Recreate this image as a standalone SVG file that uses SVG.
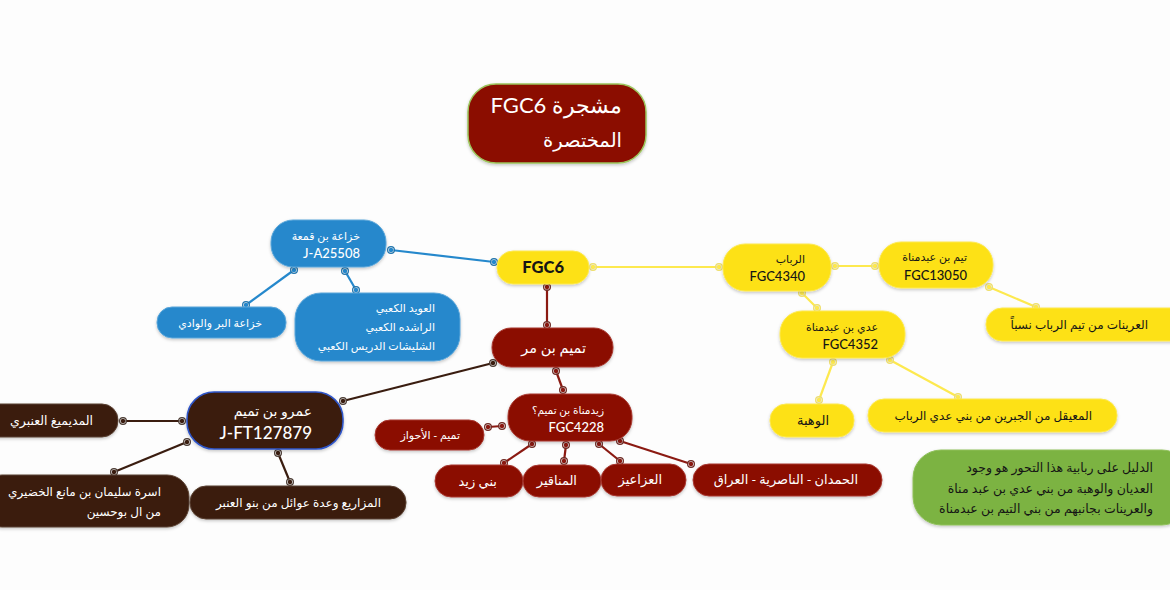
<svg xmlns="http://www.w3.org/2000/svg" width="1170" height="590" viewBox="0 0 1170 590">
<defs>
<filter id="sh" x="-10%" y="-20%" width="120%" height="150%"><feDropShadow dx="0" dy="1.5" stdDeviation="1.5" flood-color="#000" flood-opacity="0.22"/></filter>
<g id="dot"><circle r="3.4" fill="#ddd" fill-opacity="0.6" stroke="currentColor" stroke-width="1.2"/><circle r="1.1" fill="currentColor"/></g>
</defs>
<style>
text{font-family:"Noto Sans","DejaVu Sans",sans-serif;direction:rtl;text-anchor:start}
.lat{font-family:Lato,"Noto Sans",sans-serif;font-weight:700}
.w{fill:#fff}.k{fill:#151515}
.s11{font-size:11px}.s12{font-size:12px}.s125{font-size:12.5px}.s13{font-size:13px}.s14{font-size:14px}
.red rect{fill:#8b0a00;stroke:#a83a30;stroke-width:1}
.brn rect{fill:#3a1d10;stroke:#5a4030;stroke-width:1}
.blu rect{fill:#2588cc;stroke:#5aa6da;stroke-width:1}
.yel rect{fill:#fde116;stroke:#fde94f;stroke-width:1}
rect{filter:url(#sh)}
.c{fill:none;stroke-width:2.2}
</style>
<rect width="1170" height="590" fill="#fdfdfd" style="filter:none"/>
<g id="connectors" class="c">
<g stroke="#2588cc" color="#1f74ad">
<line x1="391" y1="250" x2="494" y2="262"/><line x1="294" y1="270" x2="246" y2="305"/><line x1="345" y1="271" x2="356" y2="290"/>
<use href="#dot" x="391" y="250"/><use href="#dot" x="494" y="262"/><use href="#dot" x="294" y="270"/><use href="#dot" x="246" y="305"/><use href="#dot" x="345" y="271"/><use href="#dot" x="356" y="290"/>
</g>
<g stroke="#fde94f" color="#efdf6a">
<line x1="593" y1="267" x2="719" y2="267"/><line x1="835" y1="266" x2="875" y2="266"/><line x1="802" y1="293" x2="817" y2="308"/><line x1="989" y1="287" x2="1036" y2="307"/><line x1="833" y1="362" x2="819" y2="400"/><line x1="890" y1="360" x2="958" y2="397"/>
<use href="#dot" x="593" y="267"/><use href="#dot" x="719" y="267"/><use href="#dot" x="835" y="266"/><use href="#dot" x="875" y="266"/><use href="#dot" x="802" y="293"/><use href="#dot" x="817" y="308"/><use href="#dot" x="989" y="287"/><use href="#dot" x="1036" y="307"/><use href="#dot" x="833" y="362"/><use href="#dot" x="819" y="400"/><use href="#dot" x="890" y="360"/><use href="#dot" x="958" y="397"/>
</g>
<g stroke="#8b1a12" color="#6e2a24">
<line x1="547" y1="287" x2="547" y2="325"/><line x1="556" y1="371" x2="563" y2="390"/><line x1="502" y1="426" x2="488" y2="427"/><line x1="532" y1="444" x2="504" y2="463"/><line x1="566" y1="445" x2="564" y2="461"/><line x1="599" y1="444" x2="620" y2="461"/><line x1="620" y1="441" x2="691" y2="464"/>
<use href="#dot" x="547" y="287"/><use href="#dot" x="547" y="325"/><use href="#dot" x="556" y="371"/><use href="#dot" x="563" y="390"/><use href="#dot" x="502" y="426"/><use href="#dot" x="488" y="427"/><use href="#dot" x="532" y="444"/><use href="#dot" x="504" y="463"/><use href="#dot" x="566" y="445"/><use href="#dot" x="564" y="461"/><use href="#dot" x="599" y="444"/><use href="#dot" x="620" y="461"/><use href="#dot" x="620" y="441"/><use href="#dot" x="691" y="464"/>
</g>
<g stroke="#3a1d10" color="#4a3a32">
<line x1="493" y1="363" x2="343" y2="401"/><line x1="182" y1="421" x2="123" y2="421"/><line x1="187" y1="442" x2="114" y2="472"/><line x1="278" y1="453" x2="290" y2="482"/>
<use href="#dot" x="493" y="363"/><use href="#dot" x="343" y="401"/><use href="#dot" x="182" y="421"/><use href="#dot" x="123" y="421"/><use href="#dot" x="187" y="442"/><use href="#dot" x="114" y="472"/><use href="#dot" x="278" y="453"/><use href="#dot" x="290" y="482"/>
</g>
</g>
<g id="root" class="red"><rect x="468" y="84" width="178" height="79" rx="28" style="stroke:#9cc45c;stroke-width:1.5"/><text x="622" y="113" class="w lat" style="font-size:22px;font-weight:400">مشجرة FGC6</text><text x="622" y="147" class="w" style="font-size:19.5px">المختصرة</text></g>
<g id="fgc6" class="yel"><rect x="497" y="251" width="92" height="33" rx="16"/><text x="564" y="273" class="k lat" style="font-size:16.5px;font-weight:900">FGC6</text></g>
<g id="khuzaa" class="blu"><rect x="271" y="220" width="115" height="47" rx="22"/><text x="360" y="240" class="w s11">خزاعة بن قمعة</text><text x="360" y="258" class="w lat s13" style="font-weight:500">J-A25508</text></g>
<g id="khuzaa-bar" class="blu"><rect x="157" y="307" width="129" height="31" rx="15"/><text x="262" y="327" class="w s11">خزاعة البر والوادي</text></g>
<g id="kaabi" class="blu"><rect x="295" y="293" width="165" height="68" rx="26"/><text x="435" y="312" class="w s11">العويد الكعبي</text><text x="435" y="331" class="w s11">الراشده الكعبي</text><text x="435" y="350" class="w s11">الشليشات الدريس الكعبي</text></g>
<g id="tamim" class="red"><rect x="492" y="328" width="121" height="39" rx="19"/><text x="586" y="353" class="w" style="font-size:14.5px">تميم بن مر</text></g>
<g id="amr" class="brn"><rect x="187" y="392" width="156" height="57" rx="27" style="stroke:#2f55c8;stroke-width:1.6"/><text x="312" y="416" class="w s14">عمرو بن تميم</text><text x="312" y="439" class="w lat" style="font-size:17px;font-weight:500">J-FT127879</text></g>
<g id="mudaimigh" class="brn"><rect x="-20" y="404" width="138" height="33" rx="16"/><text x="93" y="425" class="w s125">المديميغ العنبري</text></g>
<g id="usra" class="brn"><rect x="-20" y="475" width="209" height="52" rx="22"/><text x="161" y="496" class="w s12">اسرة سليمان بن مانع الخضيري</text><text x="161" y="516" class="w s12">من ال بوحسين</text></g>
<g id="mazari" class="brn"><rect x="190" y="486" width="216" height="33" rx="16"/><text x="381" y="507" class="w s12">المزاريع وعدة عوائل من بنو العنبر</text></g>
<g id="zaidmanat" class="red"><rect x="508" y="394" width="124" height="47" rx="22"/><text x="604" y="414" class="w" style="font-size:10.5px">زيدمناة بن تميم؟</text><text x="604" y="432" class="w lat s13" style="font-weight:500">FGC4228</text></g>
<g id="ahwaz" class="red"><rect x="375" y="420" width="109" height="30" rx="15"/><text x="460" y="439" class="w" style="font-size:11px">تميم - الأحواز</text></g>
<g id="banizaid" class="red"><rect x="435" y="465" width="88" height="32" rx="16"/><text x="497" y="486" class="w s13">بني زيد</text></g>
<g id="manaqir" class="red"><rect x="523" y="465" width="78" height="32" rx="16"/><text x="577" y="485" class="w s13">المناقير</text></g>
<g id="azaiz" class="red"><rect x="601" y="464" width="85" height="32" rx="16"/><text x="662" y="484" class="w s13">العزاعيز</text></g>
<g id="hamdan" class="red"><rect x="693" y="464" width="189" height="32" rx="16"/><text x="858" y="484" class="w s13">الحمدان - الناصرية - العراق</text></g>
<g id="rebab" class="yel"><rect x="723" y="244" width="108" height="47" rx="22"/><text x="805" y="263" class="k s11">الرباب</text><text x="805" y="281" class="k lat s13" style="font-weight:500">FGC4340</text></g>
<g id="taym" class="yel"><rect x="879" y="242" width="114" height="46" rx="22"/><text x="967" y="261" class="k s11">تيم بن عبدمناة</text><text x="967" y="280" class="k lat s13" style="font-weight:500">FGC13050</text></g>
<g id="adi" class="yel"><rect x="780" y="311" width="125" height="47" rx="22"/><text x="878" y="331" class="k s11">عدي بن عبدمناة</text><text x="878" y="349" class="k lat s13" style="font-weight:500">FGC4352</text></g>
<g id="uraynat" class="yel"><rect x="986" y="308" width="204" height="33" rx="16"/><text x="1148" y="329" class="k s12">العرينات من تيم الرباب نسباً</text></g>
<g id="wahba" class="yel"><rect x="770" y="404" width="84" height="33" rx="16"/><text x="829" y="425" class="k s13">الوهبة</text></g>
<g id="muayqil" class="yel"><rect x="868" y="399" width="249" height="33" rx="16"/><text x="1092" y="420" class="k s12">المعيقل من الجبرين من بني عدي الرباب</text></g>
<g id="note"><rect x="913" y="450" width="277" height="75" rx="28" fill="#7cb342" stroke="#8fc05a"/><text x="1153" y="472" class="k s125">الدليل على ربابية هذا التحور هو وجود</text><text x="1153" y="493" class="k s125">العديان والوهبة من بني عدي بن عبد مناة</text><text x="1153" y="513" class="k s125">والعرينات بجانبهم من بني التيم بن عبدمناة</text></g>
</svg>
